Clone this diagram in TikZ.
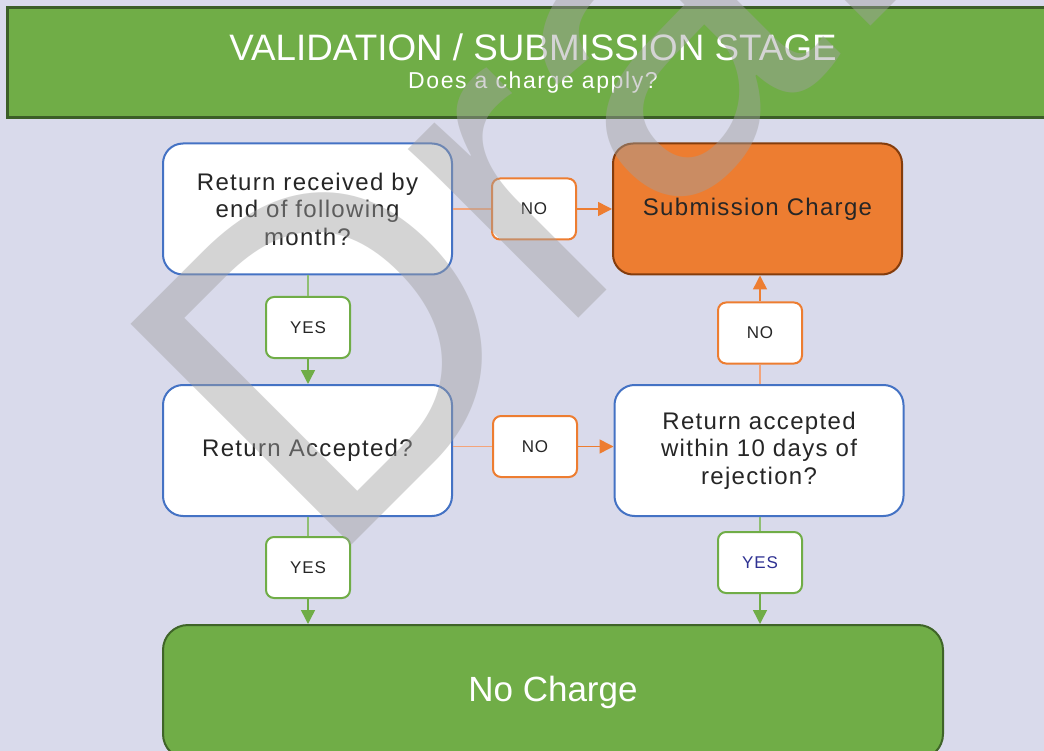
\documentclass[tikz,border=0pt]{standalone}
\usepackage{fontspec}
\setmainfont{Liberation Sans}
\newfontfamily\spacedfont[LetterSpace=5.5]{Liberation Sans}
\newfontfamily\subfont[LetterSpace=7]{Liberation Sans}
\usetikzlibrary{arrows.meta}
\definecolor{pagebg}{HTML}{D9DAEB}
\definecolor{leafgreen}{HTML}{70AD47}
\definecolor{barline}{HTML}{3B5E27}
\definecolor{freeline}{HTML}{3F6428}
\definecolor{qblue}{HTML}{4472C4}
\definecolor{nocolor}{HTML}{ED7D31}
\definecolor{nopale}{HTML}{F4A47A}
\definecolor{costline}{HTML}{843C0C}
\definecolor{yespale}{HTML}{8FBF73}
\definecolor{yesblue}{HTML}{2E3192}
\definecolor{inkgray}{HTML}{262626}
\definecolor{wmgray}{HTML}{A0A0A0}

\begin{document}
\begin{tikzpicture}[x=1pt,y=-1pt,
    qbox/.style={draw=qblue,line width=2pt,fill=white,rounded corners=20pt,minimum width=289pt,minimum height=131pt,align=center,text=inkgray,font=\spacedfont\fontsize{24}{27.5}\selectfont},
    costbox/.style={qbox,draw=costline,fill=nocolor},
    freebox/.style={draw=freeline,line width=2pt,fill=leafgreen,rounded corners=25pt,minimum width=780pt,minimum height=134pt,text=white,font=\fontsize{35}{40}\selectfont},
    tag/.style={fill=white,line width=2pt,rounded corners=8pt,minimum width=84pt,minimum height=61pt,text=inkgray,font=\spacedfont\fontsize{17}{20}\selectfont},
    notag/.style={tag,draw=nocolor},
    yestag/.style={tag,draw=leafgreen},
    nolead/.style={draw=nopale,line width=1.5pt},
    noshot/.style={draw=nocolor,line width=1.5pt,-{Triangle[length=14pt,width=14pt]}},
    yeslead/.style={draw=yespale,line width=1.5pt},
    yesshot/.style={draw=leafgreen,line width=1.5pt,-{Triangle[length=14pt,width=14pt]}},
    watermark/.style={inner sep=0pt,text=wmgray,text opacity=0.45,font=\fontsize{454}{454}\selectfont}]
    \useasboundingbox[fill=pagebg] (0,0) rectangle (1044,751);

    \node[draw=barline,line width=3pt,fill=leafgreen,minimum width=1042pt,minimum height=110pt] (bar) at (528,63) {};
    \node[text=white,anchor=base,font=\fontsize{36.8}{40}\selectfont] (title) at (533,61) {VALIDATION / SUBMISSION STAGE};
    \node[text=white,anchor=base,font=\subfont\fontsize{23}{26}\selectfont] (subtitle) at (533,89) {Does a charge apply?};

    \node[qbox] (recv) at (307.5,209) {Return received by\\end of following\\month?};
    \node[costbox] (subm) at (757.5,209) {Submission Charge};
    \node[qbox] (accp) at (307.5,450.5) {Return Accepted?};
    \node[qbox] (late) at (759,450.5) {Return accepted\\within 10 days of\\rejection?};
    \node[freebox] (free) at (553,692) {No Charge};

    \node[notag] (no1) at (534,209) {NO};
    \node[notag] (no2) at (535,446.5) {NO};
    \node[notag] (no3) at (760,333) {NO};
    \node[yestag] (yes1) at (308,327.5) {YES};
    \node[yestag] (yes2) at (308,567.5) {YES};
    \node[yestag,text=yesblue] (yes3) at (760,562.5) {YES};

    \draw[nolead] (recv.east) -- (no1.west);
    \draw[noshot] (no1.east) -- (subm.west);
    \draw[nolead] (no2.west -| accp.east) -- (no2.west);
    \draw[noshot] (no2.east) -- (no2.east -| late.west);
    \draw[nolead] (late.north -| no3) -- (no3.south);
    \draw[noshot] (no3.north) -- (no3 |- subm.south);
    \draw[yeslead] (recv.south -| yes1) -- (yes1.north);
    \draw[yesshot] (yes1.south) -- (yes1 |- accp.north);
    \draw[yeslead] (accp.south -| yes2) -- (yes2.north);
    \draw[yesshot] (yes2.south) -- (yes2 |- free.north);
    \draw[yeslead] (late.south -| yes3) -- (yes3.north);
    \draw[yesshot] (yes3.south) -- (yes3 |- free.north);

    \node[watermark,anchor=base west,rotate=45] (draft) at (325,572) {Draft};
  \end{tikzpicture}
\end{document}
